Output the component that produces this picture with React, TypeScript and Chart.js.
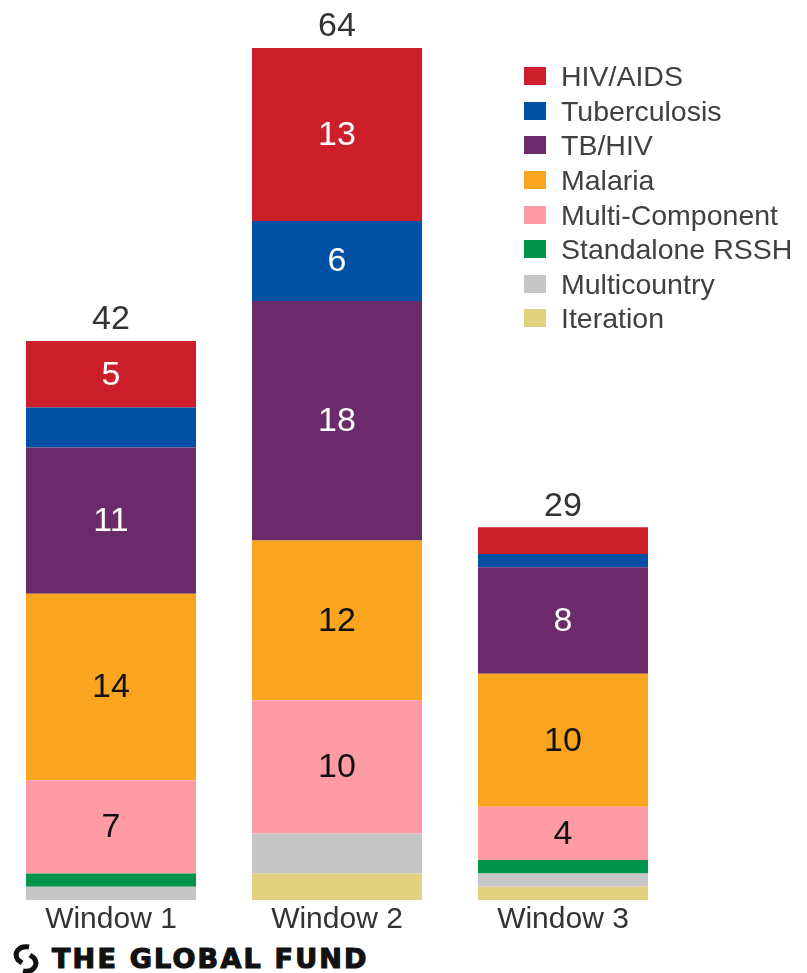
import React, { useEffect, useRef } from "react";
import { Chart, registerables } from "chart.js";

Chart.register(...registerables);

const categories = ["Window 1", "Window 2", "Window 3"];
const hivAids = [5, 13, 2];
const tuberculosis = [3, 6, 1];
const tbHiv = [11, 18, 8];
const malaria = [14, 12, 10];
const multiComponent = [7, 10, 4];
const standaloneRssh = [1, 0, 1];
const multicountry = [1, 3, 1];
const iteration = [0, 2, 1];
const totals = [42, 64, 29];

const seriesNames = [
  "HIV/AIDS",
  "Tuberculosis",
  "TB/HIV",
  "Malaria",
  "Multi-Component",
  "Standalone RSSH",
  "Multicountry",
  "Iteration",
];
const seriesValues = [hivAids, tuberculosis, tbHiv, malaria, multiComponent, standaloneRssh, multicountry, iteration];
const seriesColors = ["#CC1F2B", "#0050A6", "#6B2A69", "#F9A51F", "#FF9BA5", "#00954B", "#C6C6C6", "#E2D27F"];
const labelColors = ["#FFFFFF", "#FFFFFF", "#FFFFFF", "#111111", "#111111", "#111111", "#111111", "#111111"];
const minLabelValue = 4;

const FONT = "'Liberation Sans', Arial, sans-serif";

const labelPlugin = {
  id: "segLabels",
  afterDatasetsDraw(chart: any) {
    const ctx = chart.ctx;
    ctx.save();
    ctx.textAlign = "center";
    ctx.textBaseline = "middle";
    chart.data.datasets.forEach((ds: any, di: number) => {
      const meta = chart.getDatasetMeta(di);
      meta.data.forEach((bar: any, i: number) => {
        const v = ds.data[i];
        if (v >= minLabelValue) {
          ctx.fillStyle = ds.labelColor;
          ctx.font = `34px ${FONT}`;
          ctx.fillText(String(v), bar.x, (bar.y + bar.base) / 2 + 1);
        }
      });
    });
    const yScale = chart.scales.y;
    const topMeta = chart.getDatasetMeta(chart.data.datasets.length - 1);
    topMeta.data.forEach((bar: any, i: number) => {
      const sum = chart.data.datasets.reduce((s: number, ds: any) => s + ds.data[i], 0);
      const yTop = yScale.getPixelForValue(sum);
      ctx.fillStyle = "#333333";
      ctx.font = `34px ${FONT}`;
      ctx.fillText(String(totals[i]), bar.x, yTop - 21);
    });
    ctx.restore();
  },
};

function Logo() {
  return (
    <div style={{ position: "absolute", left: 10, top: 943, display: "flex", alignItems: "center" }}>
      <svg width="32" height="32" viewBox="0 0 32 32">
        <path d="M19 4 C9 2 3 10 8 17 L12 20" fill="none" stroke="#111" strokeWidth="5" strokeLinecap="butt" />
        <path d="M13 28 C23 30 29 22 24 15 L20 12" fill="none" stroke="#111" strokeWidth="5" strokeLinecap="butt" />
      </svg>
      <span
        style={{
          marginLeft: 10,
          fontFamily: "'DejaVu Sans', sans-serif",
          fontWeight: 900,
          fontSize: 27,
          letterSpacing: 2.2,
          color: "#111",
          lineHeight: "30px",
          WebkitTextStroke: "1.2px #111",
        }}
      >
        THE GLOBAL FUND
      </span>
    </div>
  );
}

export default function App() {
  const ref = useRef<HTMLCanvasElement | null>(null);

  useEffect(() => {
    if (!ref.current) return;
    const datasets = seriesNames
      .map((name, i) => ({
        label: name,
        data: seriesValues[i],
        backgroundColor: seriesColors[i],
        labelColor: labelColors[i],
        borderWidth: 0,
        categoryPercentage: 1,
        barPercentage: 170 / 226,
      }))
      .reverse();
    const chart = new Chart(ref.current, {
      type: "bar",
      data: { labels: categories, datasets: datasets as any },
      options: {
        responsive: false,
        animation: false,
        maintainAspectRatio: false,
        layout: { padding: { top: 48, left: 0, right: 0, bottom: 0 } },
        plugins: { legend: { display: false }, tooltip: { enabled: false } },
        scales: {
          x: {
            stacked: true,
            grid: { display: false, drawTicks: false },
            border: { display: false },
            ticks: { color: "#333333", font: { family: FONT, size: 30 }, padding: 2 },
          },
          y: { stacked: true, display: false, min: 0, max: 64 },
        },
      },
      plugins: [labelPlugin],
    });
    return () => chart.destroy();
  }, []);

  return (
    <div style={{ position: "absolute", left: 0, top: 0, width: 807, height: 973, background: "#fff", overflow: "hidden" }}>
      <canvas ref={ref} width={678} height={940} style={{ position: "absolute", left: -2, top: 0 }} />
      <div style={{ position: "absolute", left: 524, top: 59, fontFamily: FONT, color: "#404040" }}>
        {seriesNames.map((name, i) => (
          <div key={name} style={{ display: "flex", alignItems: "center", height: 34.6 }}>
            <div style={{ width: 22, height: 18, background: seriesColors[i], marginRight: 15 }} />
            <span style={{ fontSize: 28.5, lineHeight: "30px" }}>{name}</span>
          </div>
        ))}
      </div>
      <Logo />
    </div>
  );
}
